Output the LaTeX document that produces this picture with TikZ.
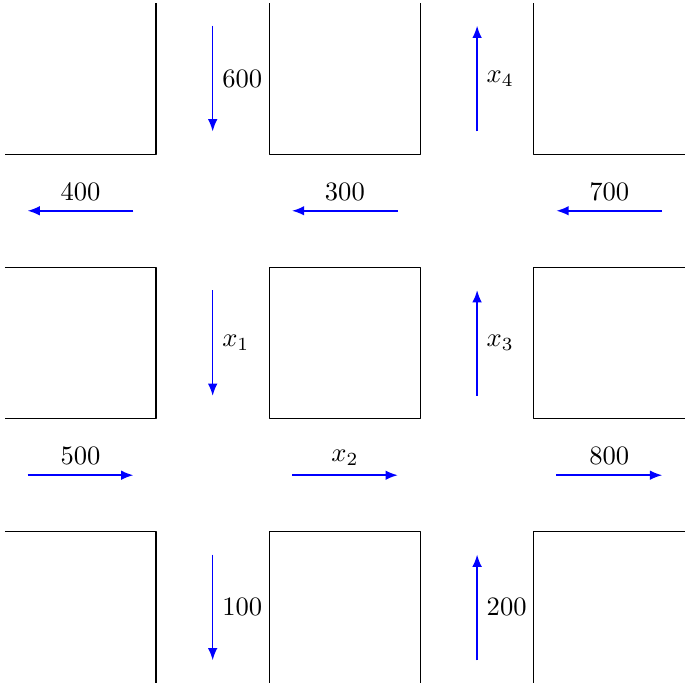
\documentclass[tikz,border=0pt]{standalone}
\usetikzlibrary{arrows.meta}
\begin{document}
\begin{tikzpicture}[x=0.5cm, y=0.5cm, line join=round, >={Latex[length=4.6pt,width=3.6pt]}, flow/.style={->, blue, semithick}]
			\useasboundingbox (-0.13,-0.03) rectangle (18.03,18.08);
			% Vẽ các khối nhà
			\draw (4,18) -- (4,14) -- (0,14);
			\draw (7,18) -- (7,14) -- (11,14) -- (11,18);
			\draw (14,18) -- (14,14) -- (18,14);
			\draw (0,11) -- (4,11) -- (4,7) -- (0,7);
			\draw (7,7) rectangle (11,11);
			\draw (18,11) -- (14,11) -- (14,7) -- (18,7);
			\draw (0,4) -- (4,4) -- (4,0);
			\draw (7,0) -- (7,4) -- (11,4) -- (11,0);
			\draw (18,4) -- (14,4) -- (14,0);
			
			% Các điểm đầu, cuối của mũi tên
			\coordinate (v1a) at (5.5,17.4);  \coordinate (v1b) at (5.5,14.6);
			\coordinate (v2a) at (5.5,10.4);  \coordinate (v2b) at (5.5,7.6);
			\coordinate (v3a) at (5.5,3.4);   \coordinate (v3b) at (5.5,0.6);
			\coordinate (v4a) at (12.5,14.6); \coordinate (v4b) at (12.5,17.4);
			\coordinate (v5a) at (12.5,7.6);  \coordinate (v5b) at (12.5,10.4);
			\coordinate (v6a) at (12.5,0.6);  \coordinate (v6b) at (12.5,3.4);
			\coordinate (h1a) at (3.4,12.5);  \coordinate (h1b) at (0.6,12.5);
			\coordinate (h2a) at (10.4,12.5); \coordinate (h2b) at (7.6,12.5);
			\coordinate (h3a) at (17.4,12.5); \coordinate (h3b) at (14.6,12.5);
			\coordinate (h4a) at (0.6,5.5);   \coordinate (h4b) at (3.4,5.5);
			\coordinate (h5a) at (7.6,5.5);   \coordinate (h5b) at (10.4,5.5);
			\coordinate (h6a) at (14.6,5.5);  \coordinate (h6b) at (17.4,5.5);
			
			% Mũi tên dọc
			\draw[flow] (v1a) -- (v1b) node[midway, right, black] {600};
			\draw[flow] (v2a) -- (v2b) node[midway, right, black] {$x_1$};
			\draw[flow] (v3a) -- (v3b) node[midway, right, black] {100};
			\draw[flow] (v4a) -- (v4b) node[midway, right, black] {$x_4$};
			\draw[flow] (v5a) -- (v5b) node[midway, right, black] {$x_3$};
			\draw[flow] (v6a) -- (v6b) node[midway, right, black] {200};
			
			% Mũi tên ngang
			\draw[flow] (h1a) -- (h1b) node[midway, above, black] {400};
			\draw[flow] (h2a) -- (h2b) node[midway, above, black] {300};
			\draw[flow] (h3a) -- (h3b) node[midway, above, black] {700};
			\draw[flow] (h4a) -- (h4b) node[midway, above, black] {500};
			\draw[flow] (h5a) -- (h5b) node[midway, above, black] {$x_2$};
			\draw[flow] (h6a) -- (h6b) node[midway, above, black] {800};
		\end{tikzpicture}
\end{document}
